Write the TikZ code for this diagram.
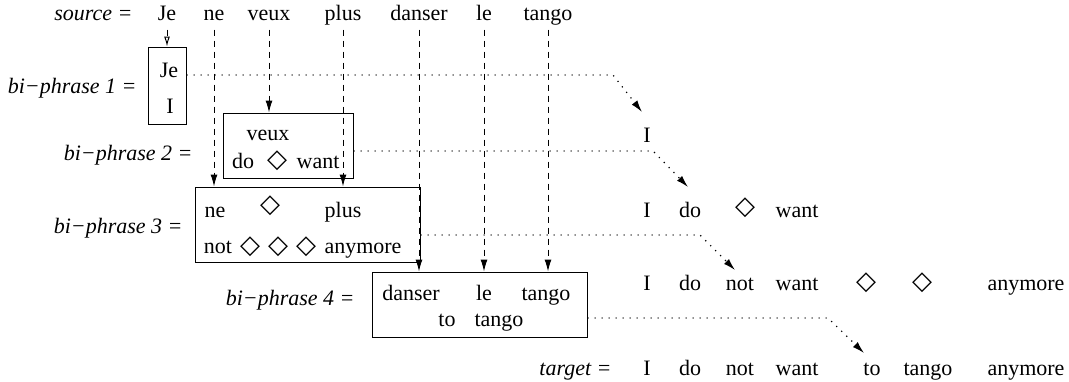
\documentclass[tikz,border=0pt]{standalone}
\usepackage{fontspec}
\setmainfont{Liberation Serif}
\newfontfamily\symfont{DejaVu Sans}
\usetikzlibrary{arrows.meta}
\newcommand{\hole}{{\symfont\fontsize{26}{30}\selectfont ◇}}

\begin{document}
\begin{tikzpicture}[x=1pt,y=-1pt,line width=1pt,
    every node/.style={font=\fontsize{22}{26}\selectfont,inner sep=0pt,anchor=base},
    lab/.style={anchor=base east,font=\fontsize{22}{26}\selectfont\itshape},
    src/.style={text depth=5pt,inner sep=4pt},
    box/.style={draw,anchor=center},
    map/.style={dash pattern=on 6pt off 5pt,-{Latex[length=12pt,width=7pt]}},
    link/.style={line width=1.2pt,dash pattern=on 1.2pt off 5.8pt,-{Latex[length=12pt,width=7pt]}}]
  \useasboundingbox (0,0) rectangle (1069,381);

  % source sentence
  \node[lab] (lsrc) at (133,20) {source =};
  \node[src] (sJe) at (167,20) {Je};
  \node[src] (sne) at (214,20) {ne};
  \node[src] (sveux) at (269,20) {veux};
  \node[src] (splus) at (343,20) {plus};
  \node[src] (sdanser) at (419,20) {danser};
  \node[src] (sle) at (484,20) {le};
  \node[src] (stango) at (548,20) {tango};

  % bi-phrases
  \node[lab] (l1) at (137,93) {bi−phrase 1 =};
  \node[box,minimum width=38pt,minimum height=77pt] (b1) at (167,85.5) {};
  \node (b1Je) at (169,77) {Je};
  \node (b1I) at (170,113) {I};

  \node[lab] (l2) at (193,160) {bi−phrase 2 =};
  \node[box,minimum width=130pt,minimum height=65pt] (b2) at (288,145.5) {};
  \node (b2veux) at (268,140) {veux};
  \node (b2do) at (243,168) {do};
  \node (b2h) at (277,167) {\hole};
  \node (b2want) at (318,168) {want};

  \node[lab] (l3) at (183,233) {bi−phrase 3 =};
  \node[box,minimum width=225pt,minimum height=75pt] (b3) at (307.5,224.5) {};
  \node (b3ne) at (215,217) {ne};
  \node (b3h) at (270,212) {\hole};
  \node (b3plus) at (343,217) {plus};
  \node (b3not) at (218,253) {not};
  \node (b3ha) at (250,253) {\hole};
  \node (b3hb) at (278,253) {\hole};
  \node (b3hc) at (306,253) {\hole};
  \node (b3any) at (363,253) {anymore};

  \node[lab] (l4) at (355,305) {bi−phrase 4 =};
  \node[box,minimum width=215pt,minimum height=65pt] (b4) at (479.5,304.5) {};
  \node (b4danser) at (411,300) {danser};
  \node (b4le) at (484,300) {le};
  \node (b4tango) at (546,300) {tango};
  \node (b4to) at (447,326) {to};
  \node (b4tangob) at (499,326) {tango};

  % partial targets
  \node (r1I) at (647,142) {I};

  \node (r2I) at (647,217) {I};
  \node (r2do) at (690,217) {do};
  \node (r2h) at (745,214) {\hole};
  \node (r2want) at (797,217) {want};

  \node (r3I) at (647,290) {I};
  \node (r3do) at (690,290) {do};
  \node (r3not) at (740,290) {not};
  \node (r3want) at (797,290) {want};
  \node (r3ha) at (866,289) {\hole};
  \node (r3hb) at (922,289) {\hole};
  \node (r3any) at (1026,290) {anymore};

  \node[lab] (ltgt) at (612,375) {target =};
  \node (tI) at (647,375) {I};
  \node (tdo) at (690,375) {do};
  \node (tnot) at (740,375) {not};
  \node (twant) at (797,375) {want};
  \node (tto) at (872,375) {to};
  \node (ttango) at (928,375) {tango};
  \node (tany) at (1026,375) {anymore};

  % source words into the bi-phrases
  \draw[map,-{Latex[open,length=10pt,width=6pt]}] (sJe) -- (sJe |- b1.north);
  \draw[map] (sveux) -- (sveux |- b2.north);
  \draw[map] (sne) -- (sne |- b3.north);
  \draw[map] (splus) -- (splus |- b3.north);
  \draw[map] (sdanser) -- (sdanser |- b4.north);
  \draw[map] (sle) -- (sle |- b4.north);
  \draw[map] (stango) -- (stango |- b4.north);

  % bi-phrases into the target
  \coordinate (k1) at (613,75);
  \coordinate (e1) at (642,112);
  \coordinate (k2) at (653,151);
  \coordinate (e2) at (688,187);
  \coordinate (k3) at (700,235);
  \coordinate (e3) at (735,270);
  \coordinate (k4) at (828,318);
  \coordinate (e4) at (864,353);
  \draw[link] (b1.east |- k1) -- (k1) -- (e1);
  \draw[link] (b2.east |- k2) -- (k2) -- (e2);
  \draw[link] (b3.east |- k3) -- (k3) -- (e3);
  \draw[link] (b4.east |- k4) -- (k4) -- (e4);
\end{tikzpicture}
\end{document}
